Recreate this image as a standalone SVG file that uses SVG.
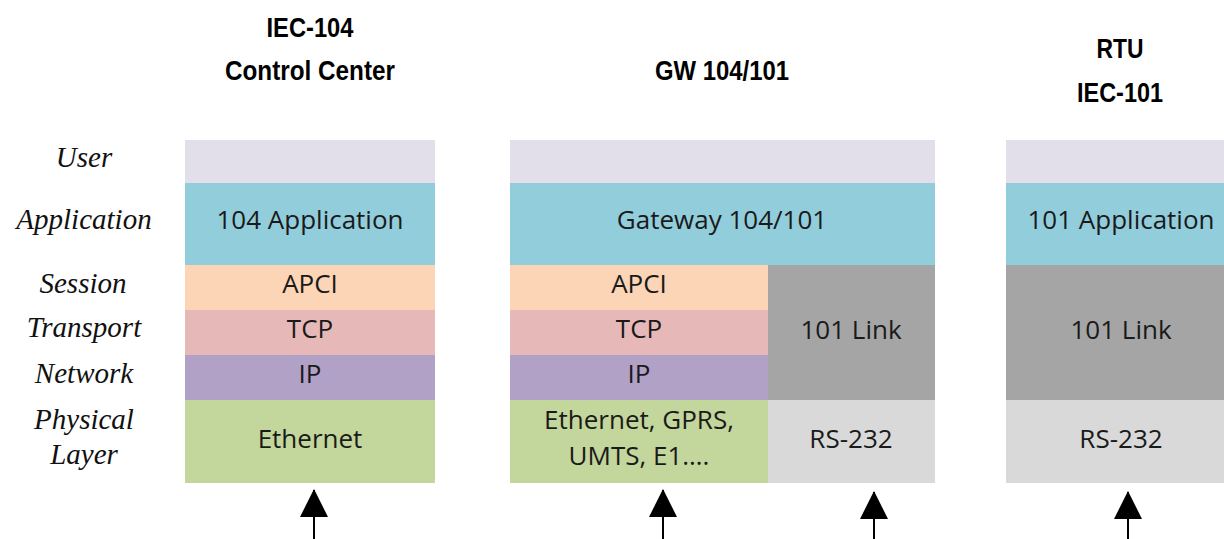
<svg xmlns="http://www.w3.org/2000/svg" width="1224" height="539" viewBox="0 0 1224 539">
  <defs>
    <marker id="head" viewBox="0 0 28 28" refX="27" refY="14" markerWidth="28" markerHeight="28" markerUnits="userSpaceOnUse" orient="auto">
      <path d="M0,0 L28,14 L0,28 Z" fill="#000"/>
    </marker>
    <style>
      .hdr { font-family: "Liberation Sans", Arial, sans-serif; font-weight: bold; font-size: 27px; fill: #000; text-anchor: middle; }
      .osi { font-family: "Liberation Serif", "Times New Roman", serif; font-style: italic; font-size: 29px; fill: #111; text-anchor: middle; }
      .lbl { font-family: "Open Sans", "Liberation Sans", sans-serif; font-size: 26px; fill: #1a1a1a; text-anchor: middle; }
      .user { fill: #e2dfea; }
      .app { fill: #92cddc; }
      .ses { fill: #fbd5b5; }
      .trn { fill: #e6b9b8; }
      .net { fill: #b2a1c7; }
      .phy { fill: #c3d69b; }
      .link { fill: #a5a5a5; }
      .rs { fill: #d9d9d9; }
      .conn { stroke: #000; stroke-width: 2; fill: none; }
    </style>
  </defs>

  <rect width="1224" height="539" fill="#fff"/>

  <!-- column headings -->
  <g id="titles">
    <text class="hdr" x="310" y="37" textLength="87" lengthAdjust="spacingAndGlyphs">IEC-104</text>
    <text class="hdr" x="310" y="80" textLength="170" lengthAdjust="spacingAndGlyphs">Control Center</text>
    <text class="hdr" x="722" y="80" textLength="134" lengthAdjust="spacingAndGlyphs">GW 104/101</text>
    <text class="hdr" x="1120" y="58" textLength="47" lengthAdjust="spacingAndGlyphs">RTU</text>
    <text class="hdr" x="1120" y="102" textLength="86" lengthAdjust="spacingAndGlyphs">IEC-101</text>
  </g>

  <!-- OSI layer names -->
  <g id="layers">
    <text class="osi" x="84" y="167">User</text>
    <text class="osi" x="84" y="229">Application</text>
    <text class="osi" x="83" y="293">Session</text>
    <text class="osi" x="84" y="337">Transport</text>
    <text class="osi" x="84" y="383">Network</text>
    <text class="osi" x="84" y="429">Physical</text>
    <text class="osi" x="84" y="464">Layer</text>
  </g>

  <!-- IEC-104 control center stack -->
  <g id="stack-104">
    <rect class="user" x="185" y="140" width="250" height="43"/>
    <rect class="app" x="185" y="183" width="250" height="82"/>
    <rect class="ses" x="185" y="265" width="250" height="45"/>
    <rect class="trn" x="185" y="310" width="250" height="45"/>
    <rect class="net" x="185" y="355" width="250" height="45"/>
    <rect class="phy" x="185" y="400" width="250" height="83"/>
    <text class="lbl" x="310" y="229">104 Application</text>
    <text class="lbl" x="310" y="293">APCI</text>
    <text class="lbl" x="310" y="338">TCP</text>
    <text class="lbl" x="310" y="383">IP</text>
    <text class="lbl" x="310" y="448">Ethernet</text>
  </g>

  <!-- gateway stack -->
  <g id="stack-gw">
    <rect class="user" x="510" y="140" width="425" height="43"/>
    <rect class="app" x="510" y="183" width="425" height="82"/>
    <rect class="ses" x="510" y="265" width="258" height="45"/>
    <rect class="trn" x="510" y="310" width="258" height="45"/>
    <rect class="net" x="510" y="355" width="258" height="45"/>
    <rect class="phy" x="510" y="400" width="258" height="83"/>
    <rect class="link" x="768" y="265" width="167" height="135"/>
    <rect class="rs" x="768" y="400" width="167" height="83"/>
    <text class="lbl" x="722" y="229">Gateway 104/101</text>
    <text class="lbl" x="639" y="293">APCI</text>
    <text class="lbl" x="639" y="338">TCP</text>
    <text class="lbl" x="639" y="383">IP</text>
    <text class="lbl" x="639" y="429">Ethernet, GPRS,</text>
    <text class="lbl" x="639" y="465">UMTS, E1….</text>
    <text class="lbl" x="851" y="339">101 Link</text>
    <text class="lbl" x="851" y="448">RS-232</text>
  </g>

  <!-- IEC-101 RTU stack -->
  <g id="stack-101">
    <rect class="user" x="1006" y="140" width="230" height="43"/>
    <rect class="app" x="1006" y="183" width="230" height="82"/>
    <rect class="link" x="1006" y="265" width="230" height="135"/>
    <rect class="rs" x="1006" y="400" width="230" height="83"/>
    <text class="lbl" x="1121" y="229">101 Application</text>
    <text class="lbl" x="1121" y="339">101 Link</text>
    <text class="lbl" x="1121" y="448">RS-232</text>
  </g>

  <!-- physical links entering each stack -->
  <g id="connectors">
    <line class="conn" x1="314" y1="545" x2="314" y2="490" marker-end="url(#head)"/>
    <line class="conn" x1="663" y1="545" x2="663" y2="490" marker-end="url(#head)"/>
    <line class="conn" x1="874" y1="545" x2="874" y2="492" marker-end="url(#head)"/>
    <line class="conn" x1="1128" y1="545" x2="1128" y2="492" marker-end="url(#head)"/>
  </g>
</svg>
